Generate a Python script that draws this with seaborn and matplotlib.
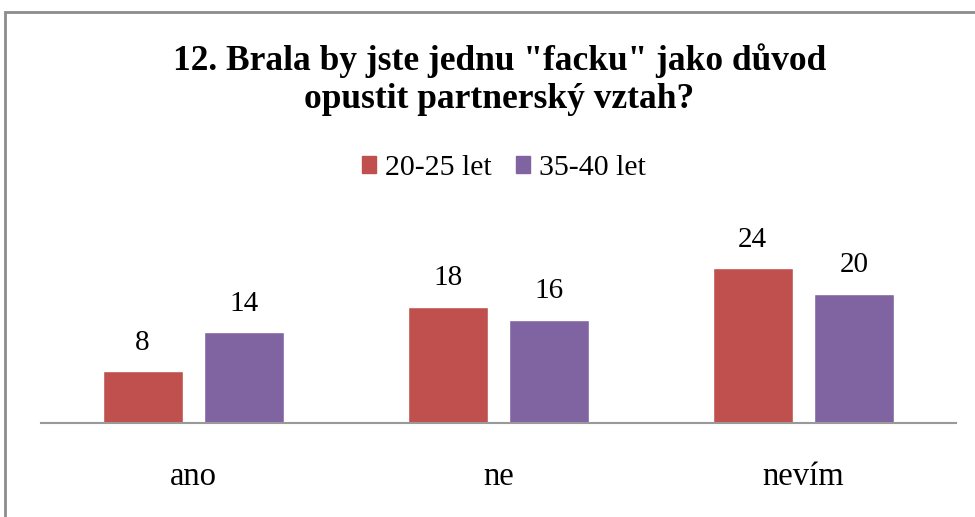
import matplotlib
matplotlib.use("Agg")
import matplotlib.pyplot as plt
from matplotlib.patches import Rectangle
import seaborn as sns
import pandas as pd

# data
categories = ["ano", "ne", "nevím"]
series = ["20-25 let", "35-40 let"]
values_young = [8, 18, 24]
values_old = [14, 16, 20]
colors = ["#C0504D", "#8064A2"]

df = pd.DataFrame({
    "odpoved": categories * 2,
    "skupina": [series[0]] * 3 + [series[1]] * 3,
    "pocet": values_young + values_old,
})

sns.set_theme(style="white")
plt.rcParams["font.family"] = ["Liberation Serif", "DejaVu Serif"]
plt.rcParams["text.color"] = "black"
plt.rcParams["xtick.color"] = "black"

fig = plt.figure(figsize=(9.75, 5.17), dpi=100)
ax = fig.add_axes([41 / 975, 1 - 423 / 517, 915 / 975, 194 / 517])

sns.barplot(data=df, x="odpoved", y="pocet", hue="skupina", palette=colors,
            width=0.668, gap=0.215, saturation=1, ax=ax, legend=False)

for cont in ax.containers:
    ax.bar_label(cont, fmt="%d", padding=11, fontsize=21)

ax.set_xlim(-0.5, 2.5)
ax.set_ylim(0, 30)
ax.set_xlabel("")
ax.set_ylabel("")
ax.set_yticks([])
ax.tick_params(axis="x", length=0, labelsize=23.5, pad=28)
for s in ["top", "right", "left"]:
    ax.spines[s].set_visible(False)
ax.spines["bottom"].set_color("#999999")
ax.spines["bottom"].set_linewidth(1.5)

fig.text(0.512, 1 - 80 / 517, '12. Brala by jste jednu "facku" jako důvod\nopustit partnerský vztah?',
         ha="center", va="center", fontsize=25.5, fontweight="bold", linespacing=1.2)

# legend
handles = [Rectangle((0, 0), 1, 1, color=c) for c in colors]
fig.legend(handles, series, loc="center", bbox_to_anchor=(0.517, 1 - 168 / 517), ncol=2,
           frameon=False, fontsize=21.5, handlelength=0.47, handleheight=0.47,
           handletextpad=0.3, columnspacing=0.8)

# chart frame (cut off at right and bottom in the reference)
fig.patches.append(Rectangle((5 / 975, -0.1), 1.1, 1 - 12 / 517 + 0.1,
                             transform=fig.transFigure, fill=False,
                             edgecolor="#8c8c8c", linewidth=2))

fig.savefig("out.png", dpi=100)
